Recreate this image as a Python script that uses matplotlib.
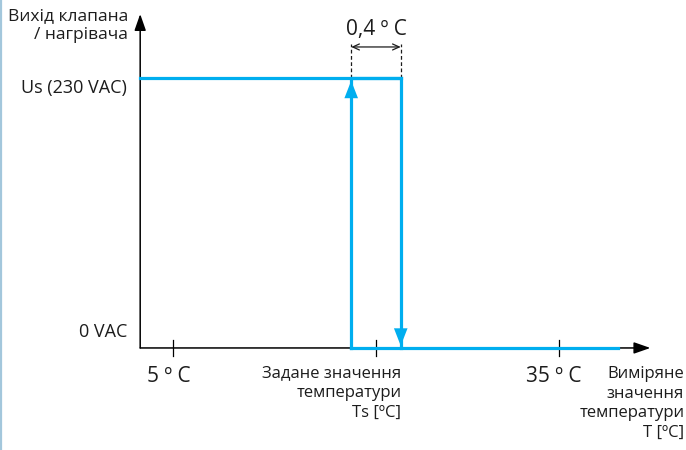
import matplotlib.pyplot as plt
from matplotlib.lines import Line2D

plt.rcParams['font.family'] = ['Open Sans', 'DejaVu Sans']

# schematic temperature axis (not to scale, like the original drawing)
x_origin = 2.45
x_end = 42.1
tick_pos = [5, 20.8, 35]
tick_labels = ["5 º C", "Задане значення\nтемператури\nTs [ºC]", "35 º C"]
t_on = 18.85      # relay switches on
t_off = 22.7      # relay switches off
t_last = 39.6     # end of the output curve
levels = [0, 1]
level_labels = ["0 VAC", "Us (230 VAC)"]
y_top = 1.237
hyst_label = "0,4 º C"
y_title = "Вихід клапана\n/ нагрівача"
x_title = "Виміряне\nзначення\nтемператури\nT [ºC]"

blue = "#00aeef"
ink = "#1c1c1c"

fig = plt.figure(figsize=(6.86, 4.5), dpi=100)
ax = fig.add_axes([0, 0, 1, 1])
ax.set_xlim(-8.445, 44.87)
ax.set_ylim(-0.378, 1.289)
ax.axis("off")

# thin light-blue frame line on the left edge
fig.add_artist(Line2D([0.0015, 0.0015], [0, 1], color="#a3c7dc", lw=1.6,
                      transform=fig.transFigure))

# axes with arrow heads
ax_arrow = dict(arrowstyle="-|>,head_length=1.0,head_width=0.35", color="black",
                lw=1.1, mutation_scale=10, shrinkA=0, shrinkB=0)
ax.annotate("", xy=(x_origin, y_top), xytext=(x_origin, levels[0]), arrowprops=ax_arrow)
ax.annotate("", xy=(x_end, levels[0]), xytext=(x_origin, levels[0]), arrowprops=ax_arrow)

# ticks on x axis
for t in tick_pos:
    ax.plot([t, t], [-0.03, 0.03], color="black", lw=0.9, zorder=2)

# output curve
ax.plot([x_origin, t_off, t_off, t_last], [levels[1], levels[1], levels[0], levels[0]],
        color=blue, lw=2.3, zorder=3, solid_joinstyle="miter")
ax.plot([t_on, t_on, t_off], [levels[0], levels[1], levels[1]],
        color=blue, lw=2.3, zorder=3)
ax.plot([t_on, t_off], [levels[0], levels[0]], color=blue, lw=2.3, zorder=3)

head = dict(arrowstyle="-|>,head_length=0.9,head_width=0.35", color=blue, lw=0,
            mutation_scale=14, shrinkA=0, shrinkB=0)
ax.annotate("", xy=(t_on, 0.99), xytext=(t_on, 0.8), arrowprops=head, zorder=4)
ax.annotate("", xy=(t_off, 0.008), xytext=(t_off, 0.2), arrowprops=head, zorder=4)

# hysteresis marker
for t in (t_on, t_off):
    ax.plot([t, t], [levels[1], 1.125], color=ink, lw=0.9, linestyle=(0, (3, 2)), zorder=2)
ax.annotate("", xy=(t_on, 1.115), xytext=(t_off, 1.115),
            arrowprops=dict(arrowstyle="<->,head_length=0.4,head_width=0.18",
                            color=ink, lw=0.9, mutation_scale=12, shrinkA=0, shrinkB=0))
ax.text((t_on + t_off) / 2, 1.18, hyst_label, ha="center", va="center",
        fontsize=15, color=ink)

# level labels
for lv, lab in zip(levels, level_labels):
    off = 16 if lv == 0 else -10
    ax.annotate(lab, xy=(x_origin, lv), xytext=(-13, off), textcoords="offset pixels",
                ha="right", va="center", fontsize=13, color=ink)

ax.annotate(y_title, xy=(x_origin, y_top), xytext=(-12, 6), textcoords="offset pixels",
            ha="right", va="top", fontsize=12.5, color=ink, linespacing=1.27)

# tick labels
ax.annotate(tick_labels[0], xy=(tick_pos[0], 0), xytext=(-4, -29), textcoords="offset pixels",
            ha="center", va="center", fontsize=15, color=ink)
ax.annotate(tick_labels[2], xy=(tick_pos[2], 0), xytext=(-5, -29), textcoords="offset pixels",
            ha="center", va="center", fontsize=15, color=ink)
ax.annotate(tick_labels[1], xy=(tick_pos[1], 0), xytext=(25, -17), textcoords="offset pixels",
            ha="right", va="top", fontsize=12, color=ink, linespacing=1.32)
ax.annotate(x_title, xy=(x_end, 0), xytext=(34, -18), textcoords="offset pixels",
            ha="right", va="top", fontsize=12, color=ink, linespacing=1.3)

fig.savefig("out.png", dpi=100)
